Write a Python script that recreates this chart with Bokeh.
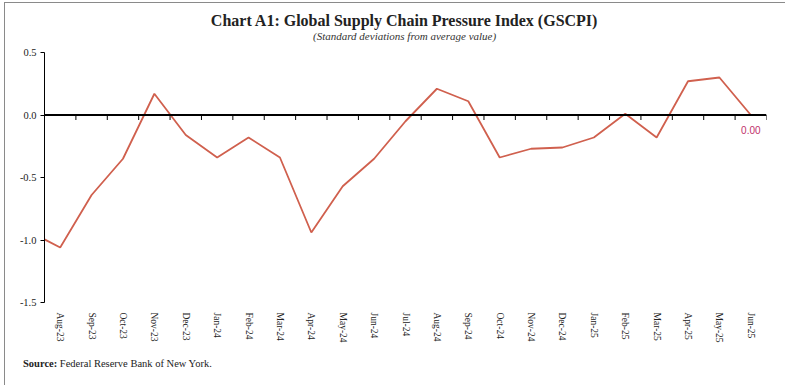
import math
from bokeh.plotting import figure
from bokeh.layouts import column
from bokeh.models import (FixedTicker, Range1d, Span, Div,
                          NumeralTickFormatter, ColumnDataSource)
from bokeh.core.properties import value
from bokeh.embed import file_html
from bokeh.resources import INLINE

# ---- data ----
months = ["Jul-23", "Aug-23", "Sep-23", "Oct-23", "Nov-23", "Dec-23",
          "Jan-24", "Feb-24", "Mar-24", "Apr-24", "May-24", "Jun-24",
          "Jul-24", "Aug-24", "Sep-24", "Oct-24", "Nov-24", "Dec-24",
          "Jan-25", "Feb-25", "Mar-25", "Apr-25", "May-25", "Jun-25"]
gscpi = [-0.93, -1.06, -0.64, -0.35, 0.17, -0.16,
         -0.34, -0.18, -0.34, -0.94, -0.57, -0.35,
         -0.05, 0.21, 0.11, -0.34, -0.27, -0.26,
         -0.18, 0.01, -0.18, 0.27, 0.30, 0.00]
y_ticks = [-1.5, -1.0, -0.5, 0.0, 0.5]
title_text = "Chart A1: Global Supply Chain Pressure Index (GSCPI)"
subtitle_text = "(Standard deviations from average value)"
source_bold = "Source:"
source_text = "Federal Reserve Bank of New York."

# first month (Jul-23) lies left of the visible window
xs = [i - 1 for i in range(len(months))]
visible = months[1:]
n_vis = len(visible)
boundaries = [i + 0.5 for i in range(-1, n_vis)]

SERIF = "Liberation Serif"
W = 776
HDR_H = 42

# ---- header (title + subtitle) as an SVG figure in pixel coordinates ----
hdr = figure(width=W, height=HDR_H, output_backend="svg", toolbar_location=None,
             x_range=Range1d(0, W), y_range=Range1d(HDR_H, 0), min_border=0,
             x_axis_location=None, y_axis_location=None)
hdr.grid.visible = False
hdr.outline_line_color = None
hdr.border_fill_color = "white"
hdr.background_fill_color = "white"
hdr.text(x=[W / 2 - 1], y=[17], text=[title_text], text_align="center",
         text_baseline="alphabetic", text_font=value(SERIF),
         text_font_style="bold", text_font_size="16px", text_color="#222222")
hdr.text(x=[W / 2 - 1], y=[32], text=[subtitle_text], text_align="center",
         text_baseline="alphabetic", text_font=value(SERIF),
         text_font_style="italic", text_font_size="11px", text_color="#333333")

# ---- main chart ----
p = figure(width=W, height=300, output_backend="svg", toolbar_location=None,
           x_range=Range1d(-0.5, n_vis - 0.5), y_range=Range1d(-1.5, 0.5),
           min_border_left=39, min_border_right=15, min_border_top=7,
           min_border_bottom=43)
p.grid.visible = False
p.outline_line_color = None
p.background_fill_color = "white"
p.border_fill_color = "white"

# zero line with category boundary ticks
p.add_layout(Span(location=0, dimension="width", line_color="black", line_width=2))
p.ray(x=boundaries, y=[0] * len(boundaries), length=5, length_units="screen",
      angle=-math.pi / 2, line_color="black", line_width=1)

src = ColumnDataSource(dict(x=xs, y=gscpi))
p.line("x", "y", source=src, line_color="#D0604E", line_width=1.8)

# y axis
ya = p.yaxis[0]
ya.ticker = FixedTicker(ticks=y_ticks)
ya.formatter = NumeralTickFormatter(format="0.0")
ya.minor_tick_line_color = None
ya.major_tick_in = 0
ya.major_tick_out = 4
ya.axis_line_color = "black"
ya.major_tick_line_color = "black"
ya.major_label_standoff = 4
ya.major_label_text_font = SERIF
ya.major_label_text_font_size = "10.5px"
ya.major_label_text_color = "#222222"

# x label axis (bottom)
xa = p.xaxis[0]
xa.ticker = FixedTicker(ticks=list(range(n_vis)))
xa.major_label_overrides = {i: lbl for i, lbl in enumerate(visible)}
xa.major_label_orientation = "vertical"
xa.axis_line_color = None
xa.major_tick_line_color = None
xa.major_tick_in = 0
xa.major_tick_out = 0
xa.minor_tick_line_color = None
xa.major_label_standoff = 10
xa.major_label_text_font = SERIF
xa.major_label_text_font_size = "9.5px"
xa.major_label_text_color = "#222222"

# end value label
last = dict(x=[xs[-1]], y=[gscpi[-1]], t=[f"{gscpi[-1]:.2f}"])
p.text("x", "y", text="t", source=ColumnDataSource(last), y_offset=15,
       text_align="center", text_baseline="middle",
       text_font=value("Liberation Sans"), text_font_size="10px",
       text_color="#C0306A")

src_div = Div(text=f"<b>{source_bold}</b> {source_text}", width=W, height=32,
              styles={"font-family": SERIF, "font-size": "10.5px", "color": "#222222",
                      "padding-left": "13px", "padding-top": "6px",
                      "box-sizing": "border-box"})

layout = column(hdr, p, src_div, margin=(2, 0, 0, 4),
                styles={"border": "1px solid #8A8A8A", "background": "white"})

open("out.html", "w").write(file_html(layout, INLINE))
